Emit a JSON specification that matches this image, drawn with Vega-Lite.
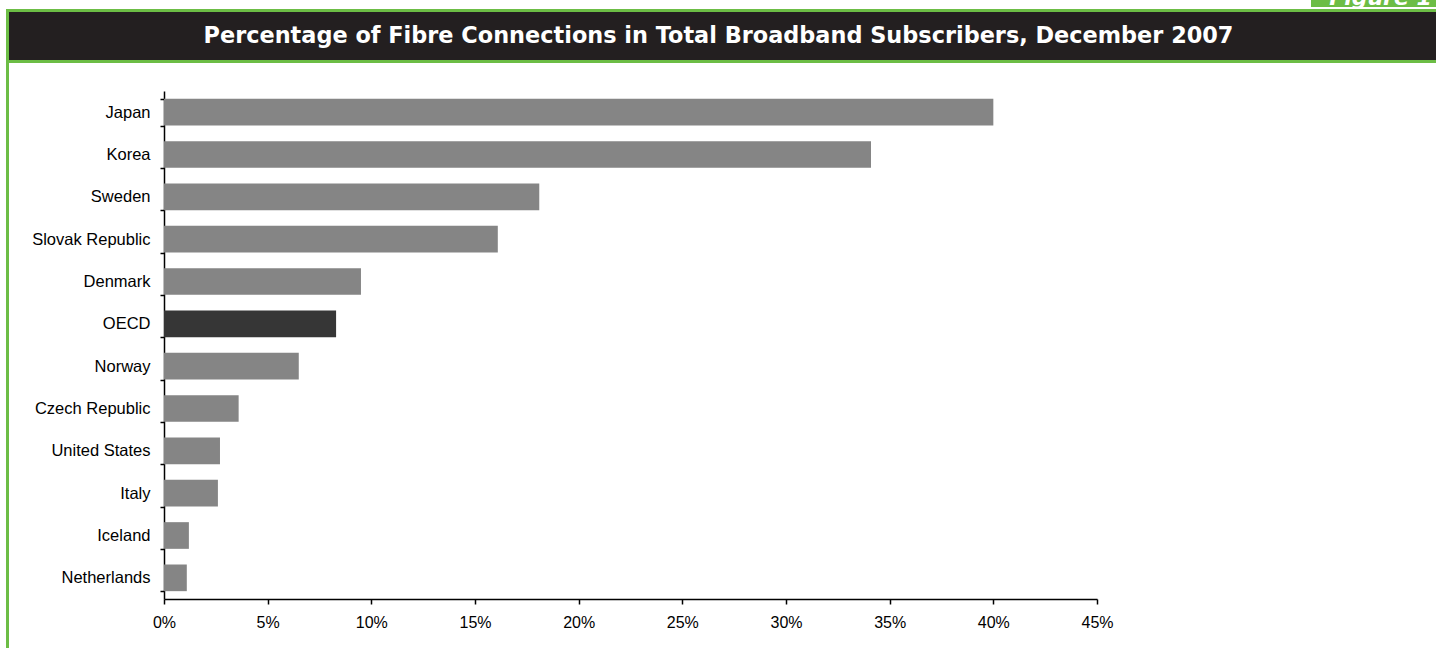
{
  "$schema": "https://vega.github.io/schema/vega-lite/v6.json",
  "padding": 0,
  "background": "white",
  "config": {"view": {"stroke": null}, "concat": {"spacing": 0}},
  "bounds": "full",
  "spacing": 0,
  "vconcat": [
    {
      "bounds": "flush",
      "spacing": 0,
      "hconcat": [
        {"width": 1311, "height": 9, "data": {"values": []}, "mark": "rect", "view": {"fill": "white", "stroke": null}},
        {
          "width": 125, "height": 7,
          "data": {"values": [{"label": "Figure 1"}]},
          "mark": {"type": "text", "clip": true, "font": "DejaVu Sans", "fontWeight": "bold", "fontStyle": "italic", "fontSize": 22, "color": "white", "align": "center", "baseline": "alphabetic", "dx": 7, "dy": 1},
          "encoding": {"text": {"field": "label"}},
          "view": {"fill": "#6cbd45", "stroke": null}
        }
      ]
    },
    {
      "bounds": "flush",
      "spacing": 0,
      "hconcat": [
        {"width": 6, "height": 639, "data": {"values": []}, "mark": "rect", "view": {"fill": "white", "stroke": null}},
        {"width": 3, "height": 639, "data": {"values": []}, "mark": "rect", "view": {"fill": "#6cbd45", "stroke": null}},
        {
          "bounds": "flush",
          "spacing": 0,
          "vconcat": [
            {"width": 1427, "height": 3, "data": {"values": []}, "mark": "rect", "view": {"fill": "#6cbd45", "stroke": null}},
            {
              "width": 1427, "height": 48,
              "data": {"values": [{"title": "Percentage of Fibre Connections in Total Broadband Subscribers, December 2007"}]},
              "mark": {"type": "text", "font": "DejaVu Sans", "fontWeight": "bold", "fontSize": 22.4, "color": "white", "align": "center", "baseline": "middle", "dx": -4},
              "encoding": {"text": {"field": "title"}},
              "view": {"fill": "#231f20", "stroke": null}
            },
            {"width": 1427, "height": 3, "data": {"values": []}, "mark": "rect", "view": {"fill": "#6cbd45", "stroke": null}},
            {"width": 1427, "height": 28, "data": {"values": []}, "mark": "rect", "view": {"fill": "white", "stroke": null}},
            {
              "bounds": "flush",
              "spacing": 0,
              "hconcat": [
                {"width": 155, "height": 508, "data": {"values": []}, "mark": "rect", "view": {"fill": "white", "stroke": null}},
                {
                  "width": 933, "height": 508,
                  "data": {"values": [
                    {"country": "Japan", "pct": 40.0, "group": "country"},
                    {"country": "Korea", "pct": 34.1, "group": "country"},
                    {"country": "Sweden", "pct": 18.1, "group": "country"},
                    {"country": "Slovak Republic", "pct": 16.1, "group": "country"},
                    {"country": "Denmark", "pct": 9.5, "group": "country"},
                    {"country": "OECD", "pct": 8.3, "group": "average"},
                    {"country": "Norway", "pct": 6.5, "group": "country"},
                    {"country": "Czech Republic", "pct": 3.6, "group": "country"},
                    {"country": "United States", "pct": 2.7, "group": "country"},
                    {"country": "Italy", "pct": 2.6, "group": "country"},
                    {"country": "Iceland", "pct": 1.2, "group": "country"},
                    {"country": "Netherlands", "pct": 1.1, "group": "country"}
                  ]},
                  "mark": {"type": "bar"},
                  "encoding": {
                    "y": {
                      "field": "country", "type": "nominal", "sort": null,
                      "scale": {"paddingInner": 0.37, "paddingOuter": 0.185},
                      "axis": {"title": null, "tickBand": "extent", "tickSize": 4, "labelPadding": 10, "labelFont": "Liberation Sans", "labelFontSize": 16.5, "labelColor": "#000000", "domainColor": "#000000", "tickColor": "#000000", "domainWidth": 1.5, "tickWidth": 1.5}
                    },
                    "x": {
                      "field": "pct", "type": "quantitative",
                      "scale": {"domain": [0, 45], "nice": false},
                      "axis": {"title": null, "grid": false, "values": [0, 5, 10, 15, 20, 25, 30, 35, 40, 45], "labelExpr": "datum.value + '%'", "tickSize": 5, "labelPadding": 10, "labelFont": "Liberation Sans", "labelFontSize": 16, "labelColor": "#000000", "domainColor": "#000000", "tickColor": "#000000", "domainWidth": 1.5, "tickWidth": 1.5, "labelFlush": false}
                    },
                    "color": {
                      "field": "group", "type": "nominal",
                      "scale": {"domain": ["country", "average"], "range": ["#858585", "#363636"]},
                      "legend": null
                    }
                  }
                }
              ]
            }
          ]
        }
      ]
    }
  ]
}
